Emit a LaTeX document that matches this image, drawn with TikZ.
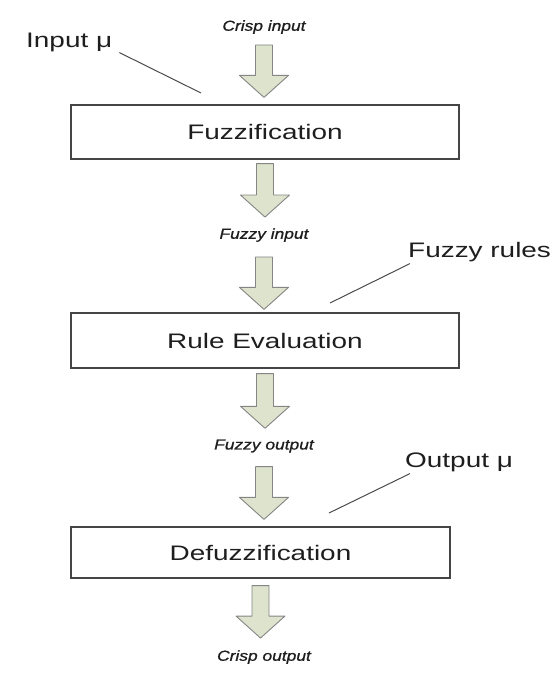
\documentclass[tikz,border=0pt]{standalone}
\usepackage{fontspec}
\setmainfont{Liberation Sans}[FakeStretch=1.33]
\newfontfamily\flowfont{Liberation Sans}[FakeStretch=1.2,
  ItalicFeatures={FakeBold=0.9}]
\usetikzlibrary{calc}

\definecolor{arrowfill}{HTML}{DDE3CC}
\definecolor{arrowline}{HTML}{858585}
\definecolor{boxline}{HTML}{454545}
\definecolor{inkgray}{HTML}{1E1E1E}

% block arrow pointing down, from #1 to its tip #2
\newcommand{\fatarrow}[2]{%
  \draw[fatarrow] let \p1=(#1), \p2=(#2) in
    (\x1-8.5pt,\y1) -- (\x1+8.5pt,\y1) -- (\x1+8.5pt,\y2+22pt)
    -- (\x1+24.5pt,\y2+22pt) -- (\x1,\y2) -- (\x1-24.5pt,\y2+22pt)
    -- (\x1-8.5pt,\y2+22pt) -- cycle;}

\begin{document}
\begin{tikzpicture}[
  x=1pt, y=-1pt,
  stage/.style={draw=boxline, line width=1.2pt, minimum width=388pt,
    minimum height=54pt, inner sep=0pt, text=inkgray,
    font=\fontsize{21}{24}\selectfont},
  flow/.style={inner sep=0pt, text=inkgray,
    font=\flowfont\fontsize{14.5}{16}\selectfont\itshape},
  note/.style={inner sep=0pt, anchor=base west, text=inkgray,
    font=\fontsize{21}{24}\selectfont},
  pointer/.style={draw=inkgray!80, line width=1pt},
  fatarrow/.style={draw=arrowline, fill=arrowfill, line width=0.9pt,
    line join=round}
]
  \useasboundingbox (0,0) rectangle (555,675);

  % stages and signals
  \node[flow] (crispin) at (264,27) {Crisp input};
  \node[stage] (fuzzif) at (265,132) {Fuzzification};
  \node[flow] (fuzzyin) at (264,235) {Fuzzy input};
  \node[stage, minimum height=55pt] (ruleeval) at (265,340.5) {Rule Evaluation};
  \node[flow] (fuzzyout) at (264,446) {Fuzzy output};
  \node[stage, minimum width=379pt, minimum height=51pt] (defuzz)
    at (260.5,552.5) {Defuzzification};
  \node[flow] (crispout) at (264,657) {Crisp output};

  % side notes
  \node[note] (inputmu) at (26,47) {Input μ};
  \node[note] (fuzzyrules) at (408,257) {Fuzzy rules};
  \node[note] (outputmu) at (405,467) {Output μ};
  \coordinate (mutip) at (201,93);
  \coordinate (rulestip) at (330,303);
  \coordinate (outtip) at (329,513);
  \draw[pointer] ([shift={(7,1)}]inputmu.south east) -- (mutip);
  \draw[pointer] ([shift={(2,2)}]fuzzyrules.south west) -- (rulestip);
  \draw[pointer] ([shift={(5,2)}]outputmu.south west) -- (outtip);

  % block arrows
  \fatarrow{$(crispin.south)+(0,11)$}{$(fuzzif.north)+(0,-7)$}
  \fatarrow{$(fuzzif.south)+(0,4)$}{$(fuzzyin.north)+(0,-11)$}
  \fatarrow{$(fuzzyin.south)+(0,15)$}{$(ruleeval.north)+(0,-3)$}
  \fatarrow{$(ruleeval.south)+(0,5)$}{$(fuzzyout.north)+(0,-11)$}
  \fatarrow{$(fuzzyout.south)+(0,14)$}{$(defuzz.north)+(0,-7)$}
  \fatarrow{$(defuzz.south)+(0,7)$}{$(crispout.north)+(0,-12)$}
\end{tikzpicture}
\end{document}
